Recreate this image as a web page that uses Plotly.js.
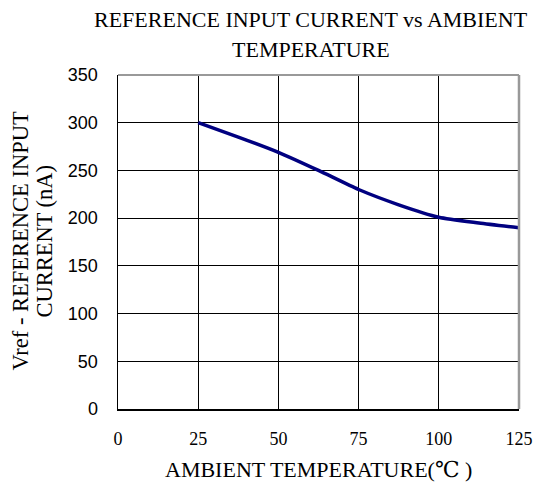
<!DOCTYPE html>
<html>
<head>
<meta charset="utf-8">
<script src="https://cdn.plot.ly/plotly-3.0.1.min.js"></script>
<style>html,body{margin:0;padding:0;background:#fff;}#chart{width:537px;height:485px;}</style>
</head>
<body>
<div id="chart"></div>
<script>
const temperature = [25, 37.5, 50, 62.5, 75, 87.5, 100, 112.5, 125];
const currentNA = [300, 285, 269, 250, 230, 214, 201, 195, 190];
const xTicks = [0, 25, 50, 75, 100, 125];
const yTicks = [0, 50, 100, 150, 200, 250, 300, 350];
const titleLines = ['REFERENCE INPUT CURRENT vs AMBIENT', 'TEMPERATURE'];
const yTitleLines = ['Vref - REFERENCE INPUT', 'CURRENT (nA)'];
const xTitle = 'AMBIENT TEMPERATURE(℃ )';

const serif = '"Liberation Serif", "DejaVu Serif", serif';
const sans = '"Liberation Sans", Arial, sans-serif';

const trace = {
  x: temperature,
  y: currentNA,
  mode: 'lines',
  line: {color: '#000080', width: 3.5, shape: 'spline', smoothing: 0.6},
  hoverinfo: 'skip'
};

const txt = (text, x, y, size, angle) => ({
  text: text, xref: 'paper', yref: 'paper', x: x, y: y,
  xanchor: 'center', yanchor: 'middle', showarrow: false,
  textangle: angle || 0,
  font: {family: serif, size: size, color: '#000'}
});

const layout = {
  width: 537, height: 485,
  margin: {l: 117.5, r: 18, t: 75, b: 76},
  paper_bgcolor: '#fff', plot_bgcolor: '#fff',
  showlegend: false,
  xaxis: {
    range: [0, 125], tickvals: xTicks, ticktext: xTicks.map(String),
    showgrid: true, gridcolor: '#000', gridwidth: 1,
    zeroline: false, showline: true, linecolor: '#000', linewidth: 1.5, mirror: false,
    ticks: '', ticklabelstandoff: 13,
    tickfont: {family: serif, size: 18, color: '#000'}
  },
  yaxis: {
    range: [0, 350], tickvals: yTicks, ticktext: yTicks.map(String),
    showgrid: true, gridcolor: '#000', gridwidth: 1,
    zeroline: false, showline: true, linecolor: '#000', linewidth: 1.5,
    ticks: '', ticklabelstandoff: 15,
    tickfont: {family: sans, size: 18, color: '#000'}
  },
  annotations: [
    txt(titleLines[0], 0.482, 1.165, 22),
    txt(titleLines[1], 0.482, 1.076, 22),
    txt(yTitleLines[0], -0.243, 0.503, 22.5, -90),
    txt(yTitleLines[1], -0.183, 0.503, 22.5, -90),
    txt(xTitle, 0.4994, -0.1826, 22)
  ],
  shapes: [
    {type: 'line', xref: 'paper', yref: 'paper', x0: 0, x1: 1, y0: 1, y1: 1, line: {color: '#999', width: 2}},
    {type: 'line', xref: 'paper', yref: 'paper', x0: 1, x1: 1, y0: 0, y1: 1, line: {color: '#999', width: 2.5}}
  ]
};

Plotly.newPlot('chart', [trace], layout, {staticPlot: true, displayModeBar: false});
</script>
</body>
</html>
